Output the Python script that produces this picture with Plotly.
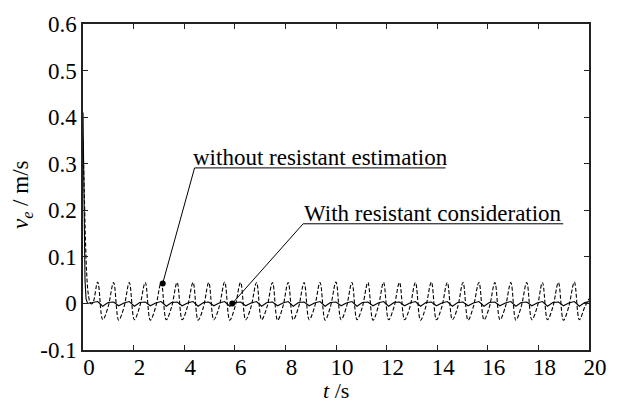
import plotly.graph_objects as go

# Initial transient (t in s, v_e in m/s)
solid_start_t = [0.0, 0.02, 0.05, 0.08, 0.12, 0.18]
solid_start_v = [0.41, 0.30, 0.14, 0.05, 0.01, 0.0]
dash_start_t = [0.0, 0.05, 0.10, 0.15, 0.21, 0.30, 0.38]
dash_start_v = [0.35, 0.24, 0.13, 0.06, 0.02, 0.0, 0.0]

# Steady oscillation of the estimate without resistance: peaks, troughs, shoulders
peak_t = [0.58, 1.21, 1.83, 2.46, 3.09, 3.72, 4.35, 4.97, 5.60, 6.23, 6.86,
          7.49, 8.11, 8.74, 9.37, 10.00, 10.63, 11.26, 11.88, 12.51, 13.14,
          13.77, 14.40, 15.02, 15.65, 16.28, 16.91, 17.54, 18.16, 18.79, 19.42]
peak_v = [0.046, 0.045, 0.045, 0.045, 0.045, 0.045, 0.045, 0.045, 0.046, 0.045,
          0.045, 0.045, 0.045, 0.045, 0.045, 0.046, 0.045, 0.045, 0.045, 0.045,
          0.045, 0.046, 0.045, 0.045, 0.045, 0.045, 0.045, 0.045, 0.045, 0.045, 0.046]
trough_t = [0.78, 1.41, 2.03, 2.66, 3.29, 3.92, 4.55, 5.17, 5.80, 6.43, 7.06,
            7.69, 8.31, 8.94, 9.57, 10.20, 10.83, 11.46, 12.08, 12.71, 13.34,
            13.97, 14.60, 15.22, 15.85, 16.48, 17.11, 17.74, 18.36, 18.99, 19.62]
trough_v = [-0.035, -0.036, -0.035, -0.036, -0.035, -0.035, -0.036, -0.035, -0.036,
            -0.035, -0.035, -0.036, -0.035, -0.035, -0.036, -0.035, -0.035, -0.036,
            -0.035, -0.035, -0.036, -0.035, -0.035, -0.036, -0.035, -0.035, -0.036,
            -0.035, -0.035, -0.036, -0.035]
shoulder_t = [0.99, 1.62, 2.24, 2.87, 3.50, 4.13, 4.76, 5.38, 6.01, 6.64, 7.27,
              7.90, 8.52, 9.15, 9.78, 10.41, 11.04, 11.67, 12.29, 12.92, 13.55,
              14.18, 14.81, 15.43, 16.06, 16.69, 17.32, 17.95, 18.57, 19.20, 19.83]
shoulder_v = [-0.008, -0.008, -0.007, -0.008, -0.008, -0.007, -0.008, -0.008, -0.007,
              -0.008, -0.008, -0.007, -0.008, -0.008, -0.007, -0.008, -0.008, -0.007,
              -0.008, -0.008, -0.007, -0.008, -0.008, -0.007, -0.008, -0.008, -0.007,
              -0.008, -0.008, -0.007, -0.008]

# Small residual ripple with resistance considered, sampled at the same instants
solid_peak_v = [0.004, 0.003, 0.004, 0.003, 0.004, 0.003, 0.004, 0.003, 0.004, 0.003,
                0.004, 0.003, 0.004, 0.003, 0.004, 0.003, 0.004, 0.003, 0.004, 0.003,
                0.004, 0.003, 0.004, 0.003, 0.004, 0.003, 0.004, 0.003, 0.004, 0.003, 0.004]
solid_trough_v = [-0.006, -0.005, -0.006, -0.005, -0.006, -0.005, -0.006, -0.005,
                  -0.006, -0.005, -0.006, -0.005, -0.006, -0.005, -0.006, -0.005,
                  -0.006, -0.005, -0.006, -0.005, -0.006, -0.005, -0.006, -0.005,
                  -0.006, -0.005, -0.006, -0.005, -0.006, -0.005, -0.006]
solid_shoulder_v = [0.002, 0.001, 0.002, 0.001, 0.002, 0.001, 0.002, 0.001, 0.002,
                    0.001, 0.002, 0.001, 0.002, 0.001, 0.002, 0.001, 0.002, 0.001,
                    0.002, 0.001, 0.002, 0.001, 0.002, 0.001, 0.002, 0.001, 0.002,
                    0.001, 0.002, 0.001, 0.002]
end_t = 20.0
dash_end_v = 0.01
solid_end_v = 0.004

# Annotated points and label positions
note1_point = (3.15, 0.043)
note1_line = (4.41, 14.33, 0.291)
note1_text = "without resistant estimation"
note2_point = (5.90, 0.0)
note2_line = (8.70, 18.98, 0.171)
note2_text = "With resistant consideration"

x_ticks = [0, 2, 4, 6, 8, 10, 12, 14, 16, 18, 20]
y_ticks = [-0.1, 0, 0.1, 0.2, 0.3, 0.4, 0.5, 0.6]
y_tick_text = ["-0.1", "0", "0.1", "0.2", "0.3", "0.4", "0.5", "0.6"]
x_title = "<i>t</i> /s"
y_title = "<i>v</i><sub><i>e</i></sub> / m/s"


def merge(t_lists, v_lists):
    pts = sorted(p for ts, vs in zip(t_lists, v_lists) for p in zip(ts, vs))
    return [p[0] for p in pts], [p[1] for p in pts]


dash_t, dash_v = merge([dash_start_t, peak_t, trough_t, shoulder_t, [end_t]],
                       [dash_start_v, peak_v, trough_v, shoulder_v, [dash_end_v]])
solid_t, solid_v = merge([solid_start_t, peak_t, trough_t, shoulder_t, [end_t]],
                         [solid_start_v, solid_peak_v, solid_trough_v,
                          solid_shoulder_v, [solid_end_v]])

FONT = "'Liberation Serif', 'Times New Roman', Times, serif"
SIZE = 23
fig = go.Figure()
fig.add_trace(go.Scatter(x=dash_t, y=dash_v, mode="lines",
                         line=dict(color="black", width=1.1, dash="4px,2px",
                                   shape="spline", smoothing=1.0)))
fig.add_trace(go.Scatter(x=solid_t, y=solid_v, mode="lines",
                         line=dict(color="black", width=1.1)))
fig.add_trace(go.Scatter(x=[note1_point[0], note2_point[0]],
                         y=[note1_point[1], note2_point[1]], mode="markers",
                         marker=dict(color="black", size=6)))

for (px, py), (x0, x1, ly), text in [(note1_point, note1_line, note1_text),
                                     (note2_point, note2_line, note2_text)]:
    fig.add_shape(type="line", x0=px, y0=py, x1=x0, y1=ly,
                  line=dict(color="black", width=1))
    fig.add_shape(type="line", x0=x0, y0=ly, x1=x1, y1=ly,
                  line=dict(color="black", width=1))
    fig.add_annotation(x=(x0 + x1) / 2, y=ly, text=text, showarrow=False,
                       xanchor="center", yanchor="bottom", yshift=-4,
                       font=dict(family=FONT, size=SIZE, color="black"))

# Axis titles placed just outside the plotting area
fig.add_annotation(x=0.5, y=0, xref="paper", yref="paper", text=x_title,
                   showarrow=False, xanchor="center", yanchor="middle", yshift=-40,
                   font=dict(family=FONT, size=22, color="black"))
fig.add_annotation(x=0, y=0.5, xref="paper", yref="paper", text=y_title,
                   showarrow=False, textangle=-90, xanchor="right", yanchor="middle",
                   xshift=-45, yshift=-8,
                   font=dict(family=FONT, size=SIZE, color="black"))

axis_common = dict(showline=True, linecolor="#222", linewidth=1.5, mirror="ticks",
                   ticks="inside", ticklen=5, tickcolor="#222", showgrid=False,
                   zeroline=False, tickfont=dict(family=FONT, size=SIZE, color="black"))
fig.update_xaxes(range=[0, 20], tickvals=x_ticks, ticklabelshift=6,
                 ticklabelstandoff=-4, **axis_common)
fig.update_yaxes(range=[-0.1, 0.6], tickvals=y_ticks, ticktext=y_tick_text,
                 **axis_common)
fig.update_layout(width=619, height=403, showlegend=False,
                  margin=dict(l=83, r=28, t=19, b=53),
                  plot_bgcolor="white", paper_bgcolor="white")
fig.write_html("out.html")
